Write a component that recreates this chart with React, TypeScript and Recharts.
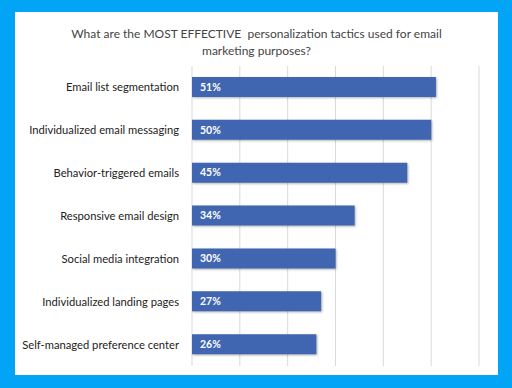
import React from 'react';
import { BarChart, Bar, XAxis, YAxis, CartesianGrid, LabelList } from 'recharts';

const tactics = [
  'Email list segmentation',
  'Individualized email messaging',
  'Behavior-triggered emails',
  'Responsive email design',
  'Social media integration',
  'Individualized landing pages',
  'Self-managed preference center',
];
const shares = [51, 50, 45, 34, 30, 27, 26];
const xTicks = [0, 10, 20, 30, 40, 50, 60];

const data = tactics.map((name, i) => ({ name, value: shares[i] }));

const font = 'Lato, "Open Sans", sans-serif';

const CategoryTick = (props: any) => {
  const { x, y, payload } = props;
  return (
    <text x={x - 11} y={y} dy={4} textAnchor="end" fill="#222" fontSize={11.2} fontFamily={font}>
      {payload.value}
    </text>
  );
};

export default function App() {
  return (
    <div style={{ position: 'fixed', left: 0, top: 0, width: 512, height: 388, background: '#02a4f6', fontFamily: font }}>
      {/* white card */}
      <div style={{ position: 'absolute', left: 15, top: 12, width: 483, height: 363, background: '#fff' }} />
      <div style={{ position: 'absolute', left: 15, top: 25, width: 483, textAlign: 'center', fontSize: 12, lineHeight: '17px', color: '#444' }}>
        What are the MOST EFFECTIVE&nbsp; personalization tactics used for email
        <br />
        marketing purposes?
      </div>
      <div style={{ position: 'absolute', left: 0, top: 0 }}>
        <BarChart
          width={512}
          height={388}
          data={data}
          layout="vertical"
          margin={{ top: 66, right: 33, bottom: 22, left: 12 }}
          barSize={20}
        >
          <CartesianGrid horizontal={false} stroke="#d9d9d9" />
          <XAxis type="number" domain={[0, 60]} ticks={xTicks} tick={() => <g />} axisLine={false} tickLine={false} height={0} />
          <YAxis
            type="category"
            dataKey="name"
            width={180}
            axisLine={false}
            tickLine={false}
            tickSize={0}
            tick={CategoryTick}
          />
          <Bar dataKey="value" fill="#4066b2" isAnimationActive={false} style={{ filter: 'drop-shadow(1px 1px 1px rgba(0,0,0,0.3))' }}>
            <LabelList
              dataKey="value"
              position="insideLeft"
              offset={8}
              formatter={(v: number) => `${v}%`}
              style={{ fill: '#fff', fontWeight: 700, fontSize: 10.5, fontFamily: font }}
            />
          </Bar>
        </BarChart>
      </div>
    </div>
  );
}
